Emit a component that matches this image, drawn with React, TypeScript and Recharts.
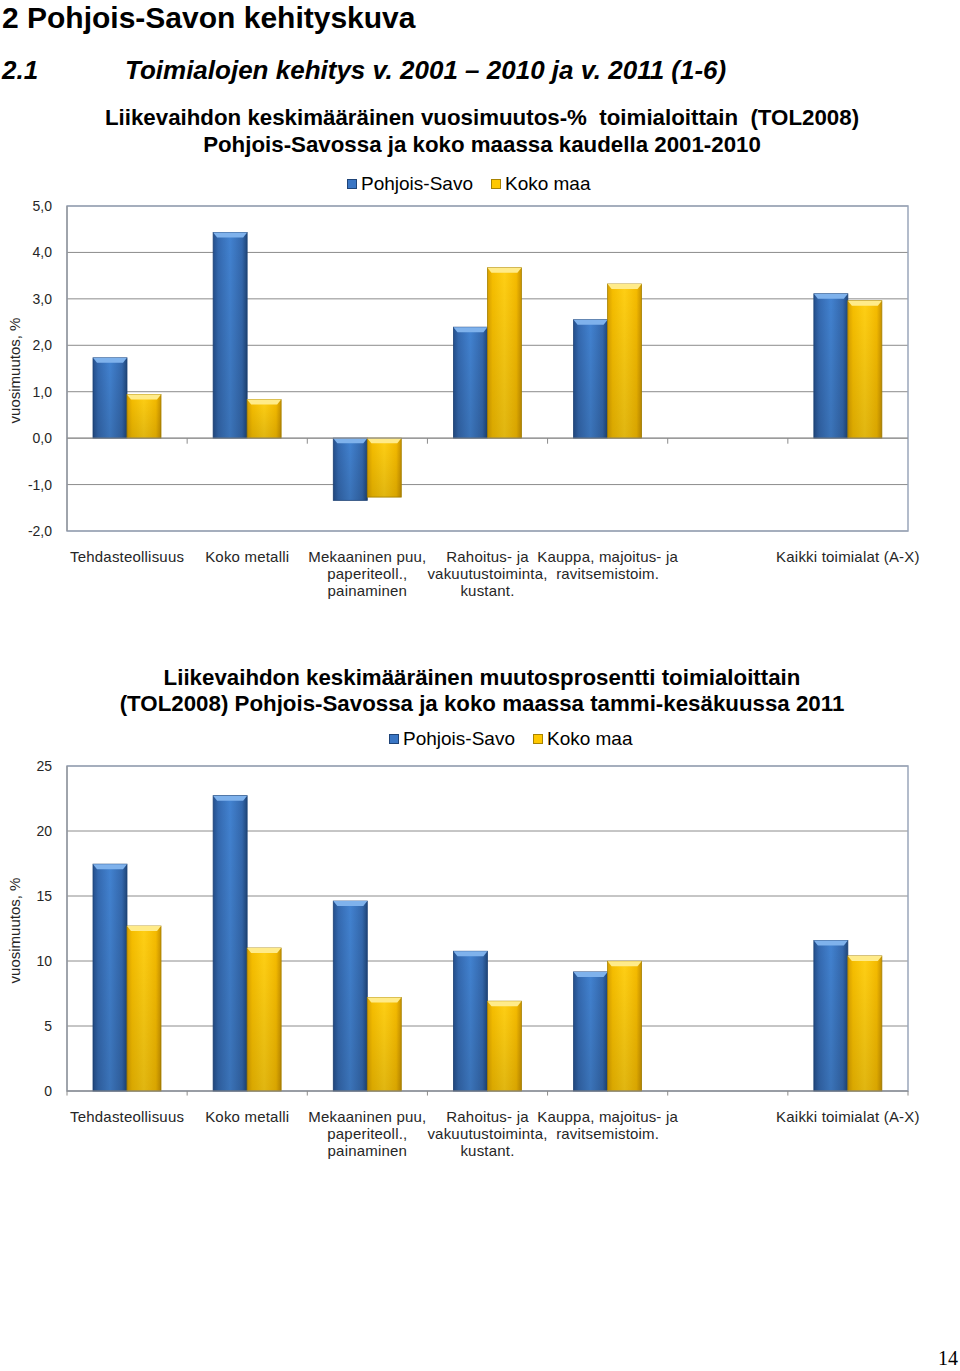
import React from 'react';
import {
  BarChart,
  Bar,
  XAxis,
  YAxis,
  CartesianGrid,
  Legend,
  ReferenceArea,
  ReferenceLine,
} from 'recharts';

// Toimialat (tyhjä sarake ennen "Kaikki toimialat")
const categories = [
  'Tehdasteollisuus',
  'Koko metalli',
  'Mekaaninen puu,\npaperiteoll.,\npainaminen',
  'Rahoitus- ja\nvakuutustoiminta,\nkustant.',
  'Kauppa, majoitus- ja\nravitsemistoim.',
  '',
  'Kaikki toimialat (A-X)',
];

// 2001-2010 keskimääräinen vuosimuutos-%
const savo2001 = [1.73, 4.43, -1.34, 2.39, 2.55, null, 3.11];
const maa2001 = [0.94, 0.83, -1.27, 3.67, 3.32, null, 2.96];

// tammi-kesäkuu 2011 muutos-%
const savo2011 = [17.45, 22.72, 14.61, 10.75, 9.16, null, 11.57];
const maa2011 = [12.69, 11.0, 7.19, 6.91, 9.98, null, 10.39];

const ticks2001 = [-2, -1, 0, 1, 2, 3, 4, 5];
const ticks2011 = [0, 5, 10, 15, 20, 25];
const slotEdges2001 = [1, 2, 3, 4, 5, 6];
const slotEdges2011 = [0, 1, 2, 3, 4, 5, 6, 7];

const SERIES_SAVO = 'Pohjois-Savo';
const SERIES_MAA = 'Koko maa';

const FONT = '"Liberation Sans", Arial, sans-serif';
const GRID = '#8c8c8c';
const BORDER = '#9aa6ba';
const LABEL = '#262626';

const TONES: Record<string, { grad: string; bevel: string; edge: string; swatch: string }> = {
  blue: { grad: 'url(#gBlue)', bevel: '#7fb2ec', edge: '#1f4478', swatch: '#3a76c4' },
  yellow: { grad: 'url(#gYellow)', bevel: '#ffeb8a', edge: '#a88300', swatch: '#ffc800' },
};

const buildRows = (a: (number | null)[], b: (number | null)[]) =>
  categories.map((name, i) => ({ name, pos: i + 0.5, savo: a[i], maa: b[i] }));

const rows2001 = buildRows(savo2001, maa2001);
const rows2011 = buildRows(savo2011, maa2011);

// eslint-disable-next-line @typescript-eslint/no-explicit-any
const BevelBar = (props: any) => {
  const { x, y, width, height, tone } = props;
  if (!width || !height) return null;
  const t = TONES[tone];
  const top = Math.min(y, y + height);
  const h = Math.abs(height);
  const b = Math.min(5, h / 2);
  return (
    <g>
      <rect x={x} y={top} width={width} height={h} fill={t.grad} stroke={t.edge} strokeWidth={0.8} />
      <rect x={x} y={top} width={width} height={h} fill="url(#gShade)" />
      <polygon
        points={`${x},${top} ${x + width},${top} ${x + width - 4},${top + b} ${x + 4},${top + b}`}
        fill={t.bevel}
      />
    </g>
  );
};

// eslint-disable-next-line @typescript-eslint/no-explicit-any
const CategoryTick = (props: any) => {
  const { x, y, payload } = props;
  const lines = String(payload.value).split('\n');
  return (
    <text
      x={x}
      y={y}
      textAnchor="middle"
      fill={LABEL}
      style={{ fontSize: 15, letterSpacing: 0.2, fontFamily: FONT }}
    >
      {lines.map((l, i) => (
        <tspan key={i} x={x} dy={i === 0 ? 31 : 17}>
          {l}
        </tspan>
      ))}
    </text>
  );
};

// eslint-disable-next-line @typescript-eslint/no-explicit-any
const YTitle = (props: any) => {
  const vb = props.viewBox || { x: 22, y: 0, height: 0 };
  const cx = vb.x - 8;
  const cy = vb.y + vb.height / 2 + 2;
  return (
    <text
      x={cx}
      y={cy}
      transform={`rotate(-90 ${cx} ${cy})`}
      textAnchor="middle"
      dominantBaseline="central"
      fill={LABEL}
      style={{ fontSize: 15, fontFamily: FONT }}
    >
      vuosimuutos, %
    </text>
  );
};

const makeLegend = (padLeft: number) => () => (
  <div
    style={{
      height: 28,
      display: 'flex',
      alignItems: 'center',
      paddingLeft: padLeft,
      fontSize: 19,
      fontFamily: FONT,
      color: '#000',
    }}
  >
    {[
      { label: SERIES_SAVO, tone: 'blue' },
      { label: SERIES_MAA, tone: 'yellow' },
    ].map((it) => (
      <span key={it.label} style={{ display: 'flex', alignItems: 'center', marginRight: 18 }}>
        <span
          style={{
            width: 10,
            height: 10,
            background: TONES[it.tone].swatch,
            border: `1px solid ${TONES[it.tone].edge}`,
            boxSizing: 'border-box',
            marginRight: 4,
          }}
        />
        {it.label}
      </span>
    ))}
  </div>
);

interface ChartProps {
  rows: { name: string; pos: number; savo: number | null; maa: number | null }[];
  ticks: number[];
  edges: number[];
  tickLen: number;
  legendLeft: number;
  marginTop: number;
  decimals: boolean;
}

function IndustryChart({ rows, ticks, edges, tickLen, legendLeft, marginTop, decimals }: ChartProps) {
  const lo = ticks[0];
  const hi = ticks[ticks.length - 1];
  return (
    <BarChart
      width={960}
      height={marginTop + 28 + 325 + 69}
      data={rows}
      margin={{ top: marginTop, right: 52, bottom: 9, left: 22 }}
      barGap={0}
      barCategoryGap={26}
    >
      <CartesianGrid vertical={false} stroke={GRID} />
      <XAxis
        dataKey="name"
        axisLine={false}
        tickLine={false}
        tickSize={0}
        tickMargin={0}
        interval={0}
        height={60}
        tick={<CategoryTick />}
      />
      <XAxis
        xAxisId="n"
        dataKey="pos"
        type="number"
        domain={[0, categories.length]}
        allowDataOverflow
        hide
      />
      <YAxis
        domain={[lo, hi]}
        ticks={ticks}
        interval={0}
        width={45}
        tickLine={false}
        tickSize={8}
        tickMargin={7}
        axisLine={{ stroke: GRID }}
        tick={{ fontSize: 14, fill: LABEL, fontFamily: FONT }}
        tickFormatter={(v: number) => (decimals ? v.toFixed(1).replace('.', ',') : String(v))}
        label={{ content: <YTitle /> }}
      />
      <ReferenceArea
        xAxisId="n"
        x1={0}
        x2={categories.length}
        y1={lo}
        y2={hi}
        fill="none"
        stroke={BORDER}
        strokeWidth={1.5}
        ifOverflow="visible"
      />
      <ReferenceLine y={0} stroke={GRID} />
      {edges.map((e) => (
        <ReferenceLine
          key={e}
          xAxisId="n"
          segment={[
            { x: e, y: 0 },
            { x: e, y: -tickLen },
          ]}
          stroke={GRID}
          ifOverflow="visible"
        />
      ))}
      <Legend
        verticalAlign="top"
        height={28}
        wrapperStyle={{ left: 0, top: 0, width: 960 }}
        content={makeLegend(legendLeft)}
      />
      <Bar
        dataKey="savo"
        name={SERIES_SAVO}
        barSize={34}
        isAnimationActive={false}
        shape={(p: any) => <BevelBar {...p} tone="blue" />}
      />
      <Bar
        dataKey="maa"
        name={SERIES_MAA}
        barSize={34}
        isAnimationActive={false}
        shape={(p: any) => <BevelBar {...p} tone="yellow" />}
      />
    </BarChart>
  );
}

const titleStyle: React.CSSProperties = {
  position: 'absolute',
  left: 2,
  width: 960,
  textAlign: 'center',
  fontWeight: 700,
  fontSize: 22.3,
  fontFamily: FONT,
  color: '#000',
};

export default function App() {
  return (
    <div
      style={{
        position: 'absolute',
        left: 0,
        top: 0,
        width: 960,
        height: 1371,
        background: '#fff',
        fontFamily: FONT,
        overflow: 'hidden',
      }}
    >
      <svg width={0} height={0} style={{ position: 'absolute' }}>
        <defs>
          <linearGradient id="gBlue" x1="0" y1="0" x2="1" y2="0">
            <stop offset="0" stopColor="#244f8c" />
            <stop offset="0.15" stopColor="#3469b0" />
            <stop offset="0.5" stopColor="#4282d0" />
            <stop offset="0.85" stopColor="#3468ad" />
            <stop offset="1" stopColor="#1f4679" />
          </linearGradient>
          <linearGradient id="gYellow" x1="0" y1="0" x2="1" y2="0">
            <stop offset="0" stopColor="#d9a000" />
            <stop offset="0.15" stopColor="#f6be00" />
            <stop offset="0.5" stopColor="#ffcf14" />
            <stop offset="0.85" stopColor="#f5bb00" />
            <stop offset="1" stopColor="#c99200" />
          </linearGradient>
          <linearGradient id="gShade" x1="0" y1="0" x2="0" y2="1">
            <stop offset="0" stopColor="#000" stopOpacity="0" />
            <stop offset="1" stopColor="#000" stopOpacity="0.12" />
          </linearGradient>
        </defs>
      </svg>

      <div style={{ position: 'absolute', left: 2, top: 0, fontSize: 30, lineHeight: '35px', fontWeight: 700 }}>
        2 Pohjois-Savon kehityskuva
      </div>
      <div
        style={{
          position: 'absolute',
          left: 2,
          top: 53,
          fontSize: 26,
          lineHeight: '34px',
          fontWeight: 700,
          fontStyle: 'italic',
        }}
      >
        2.1
      </div>
      <div
        style={{
          position: 'absolute',
          left: 125,
          top: 53,
          fontSize: 26,
          lineHeight: '34px',
          fontWeight: 700,
          fontStyle: 'italic',
        }}
      >
        Toimialojen kehitys v. 2001 – 2010 ja v. 2011 (1-6)
      </div>

      <div style={{ ...titleStyle, top: 104, lineHeight: '27px' }}>
        <div style={{ whiteSpace: 'pre' }}>Liikevaihdon keskimääräinen vuosimuutos-%  toimialoittain  (TOL2008)</div>
        <div>Pohjois-Savossa ja koko maassa kaudella 2001-2010</div>
      </div>
      <div style={{ position: 'absolute', left: 0, top: 170 }}>
        <IndustryChart
          rows={rows2001}
          ticks={ticks2001}
          edges={slotEdges2001}
          tickLen={0.12}
          legendLeft={347}
          marginTop={8}
          decimals
        />
      </div>

      <div style={{ ...titleStyle, top: 665, lineHeight: '26px' }}>
        <div>Liikevaihdon keskimääräinen muutosprosentti toimialoittain</div>
        <div>(TOL2008) Pohjois-Savossa ja koko maassa tammi-kesäkuussa 2011</div>
      </div>
      <div style={{ position: 'absolute', left: 0, top: 725 }}>
        <IndustryChart
          rows={rows2011}
          ticks={ticks2011}
          edges={slotEdges2011}
          tickLen={0.35}
          legendLeft={389}
          marginTop={13}
          decimals={false}
        />
      </div>

      <div
        style={{
          position: 'absolute',
          right: 2,
          top: 1347,
          fontSize: 20,
          lineHeight: '22px',
          fontFamily: '"Liberation Serif", "Times New Roman", serif',
        }}
      >
        14
      </div>
    </div>
  );
}
